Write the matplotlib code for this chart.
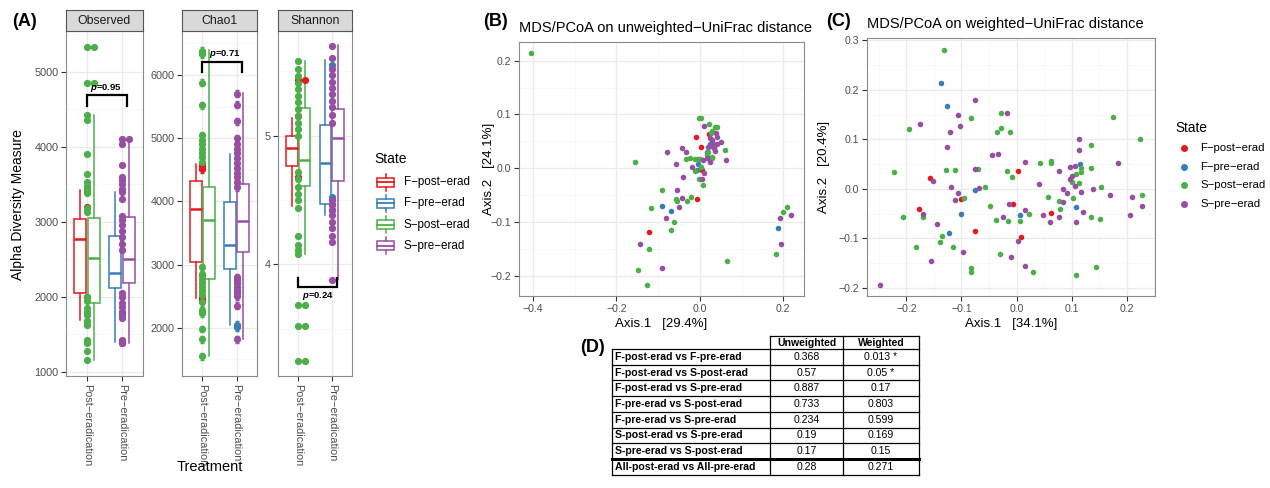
import matplotlib
matplotlib.use("Agg")
import matplotlib.pyplot as plt
from matplotlib.patches import Rectangle

plt.rcParams['font.family'] = ['Liberation Sans', 'DejaVu Sans']
plt.rcParams['mathtext.fontset'] = 'custom'
plt.rcParams['mathtext.it'] = 'Liberation Sans:italic:bold'

# ---- data ---------------------------------------------------------------
states = ["F−post−erad", "F−pre−erad", "S−post−erad", "S−pre−erad"]
state_colors = ["#E41A1C", "#377EB8", "#4DAF4A", "#984EA3"]
treatments = ["Post−eradication", "Pre−eradication"]
state_treatment = [0, 1, 0, 1]          # index into treatments
metrics = ["Observed", "Chao1", "Shannon"]

# five-number summaries per state: whisker low, Q1, median, Q3, whisker high
observed_stats = [
    [1690, 2045, 2765, 3040, 3420],
    [1390, 2120, 2320, 2810, 3390],
    [1150, 1920, 2520, 3055, 4420],
    [1380, 2180, 2500, 3065, 4110],
]
chao1_stats = [
    [2470, 3040, 3885, 4315, 4595],
    [2050, 2935, 3305, 3985, 4755],
    [1550, 2765, 3705, 4230, 6395],
    [1825, 3195, 3695, 4270, 5710],
]
shannon_stats = [
    [4.45, 4.765, 4.905, 5.0, 5.14],
    [4.38, 4.465, 4.79, 5.085, 5.59],
    [4.08, 4.605, 4.81, 5.215, 5.58],
    [3.88, 4.65, 4.985, 5.205, 5.705],
]

observed_pts = [
    [3420, 3190, 1990, 1680],
    [1790, 1760, 1410, 1380],
    [5330, 4850, 4420, 4350, 3900, 3630, 3530, 3480, 3430, 3380, 3180, 3130,
     2000, 1940, 1850, 1800, 1760, 1680, 1620, 1420, 1380, 1280, 1150],
    [4100, 4030, 3750, 3600, 3560, 3500, 3440, 3390, 3300, 3080, 3020, 2950,
     2880, 2800, 2700, 2620, 2050, 1990, 1920, 1860, 1800, 1720, 1420, 1380],
]
observed_dup = [[], [], [5330, 4850], [4100]]

chao1_pts = [
    [4600, 4560, 4510, 2830, 2480, 2440],
    [2600, 2560, 2050, 2010],
    [6380, 6330, 5880, 5520, 5050, 4970, 4900, 4830, 4760, 4700, 4630, 2960,
     2850, 2770, 2700, 2650, 2580, 2520, 2400, 2280, 2230, 1980, 1820, 1550],
    [5700, 5530, 5270, 5000, 4900, 4830, 4760, 4680, 4600, 4530, 4450, 4380,
     4300, 4220, 2800, 2750, 2700, 2640, 2560, 2500, 2350, 1820],
]
chao1_dup = [[], [], [], []]
chao1_se = 55

shannon_pts = [
    [5.43, 5.15, 4.68],
    [5.55, 4.52, 4.47, 4.42],
    [5.58, 5.52, 5.46, 5.41, 5.36, 5.31, 5.26, 5.21, 5.15, 5.10, 5.05, 5.00,
     4.72, 4.66, 4.60, 4.55, 4.50, 4.44, 4.22, 4.15, 4.11, 4.08, 3.68, 3.52, 3.25],
    [5.70, 5.60, 5.52, 5.47, 5.42, 5.37, 5.32, 5.27, 5.22, 5.16, 5.10, 4.50,
     4.46, 4.42, 4.38, 4.33, 4.28, 4.22, 4.17, 3.88],
]
shannon_dup = [[5.43], [], [3.68, 3.52, 3.25], []]

p_labels = ["0.95", "0.71", "0.24"]

# PCoA ordinations (unweighted UniFrac)
unw_fpost_x = [-0.010, 0.002, 0.022, 0.006, -0.008, -0.122]
unw_fpost_y = [0.059, 0.040, 0.063, -0.003, -0.056, -0.117]
unw_fpre_x = [-0.004, -0.008, 0.024, 0.032, 0.016, -0.091, -0.070, 0.188]
unw_fpre_y = [0.008, -0.002, 0.046, 0.040, 0.031, -0.070, -0.079, -0.111]
unw_spost_x = [-0.404, -0.156, -0.003, 0.003, 0.021, 0.030, 0.036, 0.040, 0.027,
               0.060, -0.034, -0.024, -0.011, 0.000, -0.004, 0.002, -0.012,
               0.020, 0.028, 0.016, 0.032, 0.030, -0.003, 0.008, -0.090, -0.058,
               -0.054, -0.032, -0.022, -0.118, -0.063, -0.069, -0.122, -0.148,
               -0.126, 0.064, 0.183, 0.199, 0.210]
unw_spost_y = [0.214, 0.012, 0.093, 0.093, 0.083, 0.070, 0.077, 0.076, 0.065,
               0.034, 0.018, 0.020, 0.018, 0.017, 0.018, 0.003, -0.004,
               0.031, 0.022, 0.025, 0.046, 0.020, -0.020, -0.031, -0.040, -0.056,
               -0.060, -0.061, -0.053, -0.074, -0.099, -0.114, -0.149, -0.189,
               -0.217, -0.171, -0.159, -0.081, -0.072]
unw_spre_x = [0.010, 0.024, 0.032, 0.038, 0.040, 0.050, 0.042, 0.033, 0.036,
              -0.042, -0.034, -0.080, -0.058, -0.040, -0.020, 0.016, 0.062,
              0.008, 0.010, 0.004, 0.025, -0.054, -0.042, -0.051, -0.081,
              -0.143, -0.090, 0.195, 0.191, 0.219, 0.020, 0.028]
unw_spre_y = [0.078, 0.057, 0.046, 0.066, 0.046, 0.049, 0.058, 0.037, 0.033,
              0.038, 0.031, 0.031, 0.009, -0.015, 0.003, 0.020, 0.015,
              0.015, -0.008, -0.020, 0.012, -0.040, -0.054, -0.072, -0.091,
              -0.140, -0.185, -0.141, -0.091, -0.086, 0.040, 0.052]

# PCoA ordinations (weighted UniFrac)
w_fpost_x = [-0.158, -0.100, 0.002, -0.007, -0.178, -0.076, 0.008, 0.063]
w_fpost_y = [0.021, -0.021, 0.036, -0.030, -0.040, -0.086, -0.098, -0.048]
w_fpre_x = [-0.137, -0.127, -0.076, -0.100, -0.123, 0.007, 0.116, 0.108]
w_fpre_y = [0.214, 0.167, -0.002, -0.051, -0.090, -0.053, 0.050, -0.037]
w_spost_x = [-0.132, -0.195, -0.083, -0.028, -0.028, -0.036, -0.012, -0.222,
             -0.129, -0.111, -0.070, -0.018, -0.008, -0.095, -0.057, -0.048,
             -0.170, -0.206, -0.136, -0.139, -0.182, -0.115, -0.082, -0.082,
             -0.030, -0.037, -0.016, 0.006, 0.023, 0.030, 0.042, 0.062, 0.062,
             0.058, 0.118, 0.117, 0.135, 0.135, 0.175, 0.225, 0.100, 0.108,
             0.114, 0.078, 0.102, 0.079, 0.153, 0.228, 0.135, 0.152, 0.144,
             0.108]
w_spost_y = [0.281, 0.121, 0.143, 0.153, 0.123, 0.114, 0.115, 0.034,
             0.038, 0.038, 0.040, 0.037, 0.024, -0.019, 0.003, -0.034,
             -0.056, -0.057, -0.096, -0.107, -0.117, -0.117, -0.160, -0.168,
             -0.131, -0.063, -0.064, -0.065, -0.051, -0.168, 0.053, 0.057, 0.053,
             -0.016, 0.043, 0.034, 0.043, 0.088, 0.145, 0.100, 0.014, 0.030,
             0.011, -0.025, -0.018, -0.040, 0.004, -0.013, -0.056, -0.061, -0.157,
             -0.173]
w_spre_x = [-0.076, -0.175, -0.107, -0.102, -0.121, -0.018, -0.127, -0.045,
            -0.034, -0.152, -0.075, -0.119, -0.107, -0.112, -0.069, -0.013,
            -0.170, -0.144, -0.156, -0.097, -0.248, -0.010, 0.003, -0.025,
            0.016, 0.016, 0.016, 0.040, 0.048, 0.061, 0.078, 0.097, 0.107,
            0.113, 0.113, 0.184, 0.097, 0.100, 0.107, 0.117, 0.085, 0.091,
            0.084, 0.120, 0.138, 0.170, 0.210, 0.227, 0.206, 0.078, 0.108]
w_spre_y = [0.180, 0.131, 0.150, 0.127, 0.115, 0.153, 0.085, 0.069,
            0.071, 0.015, 0.041, 0.003, -0.009, -0.022, 0.001, -0.031,
            -0.051, -0.071, -0.145, -0.128, -0.194, -0.137, -0.106, -0.057,
            -0.042, -0.155, 0.054, 0.009, -0.053, -0.066, 0.036, 0.045, 0.047,
            0.101, 0.079, 0.053, 0.020, 0.025, 0.005, -0.007, -0.001, -0.009,
            -0.026, -0.046, -0.001, -0.012, -0.016, -0.035, -0.052, -0.057,
            -0.067]

# PERMANOVA p-values
comparisons = ["F-post-erad vs F-pre-erad", "F-post-erad vs S-post-erad",
               "F-post-erad vs S-pre-erad", "F-pre-erad vs S-post-erad",
               "F-pre-erad vs S-pre-erad", "S-post-erad vs S-pre-erad",
               "S-pre-erad vs S-post-erad", "All-post-erad vs All-pre-erad"]
p_unweighted = ["0.368", "0.57", "0.887", "0.733", "0.234", "0.19", "0.17", "0.28"]
p_weighted = ["0.013 *", "0.05 *", "0.17", "0.803", "0.599", "0.169", "0.15", "0.271"]

# ---- layout helpers ---------------------------------------------------------
W, H = 1270, 488
fig = plt.figure(figsize=(W / 100, H / 100), dpi=100)
fig.patch.set_facecolor("white")


def axes_px(l, t, r, b, **kw):
    return fig.add_axes([l / W, 1 - b / H, (r - l) / W, (b - t) / H], **kw)


def bw_style(ax, size=7.8):
    for s in ax.spines.values():
        s.set_color("#8a8a8a")
        s.set_linewidth(0.8)
    ax.tick_params(length=3.5, width=0.8, color="#333333", labelsize=size,
                   labelcolor="#4d4d4d", pad=2)
    ax.tick_params(which="minor", length=0)
    ax.set_axisbelow(True)
    ax.grid(which="major", color="#EBEBEB", lw=0.9)
    ax.grid(which="minor", color="#F5F5F5", lw=0.5)


ov = fig.add_axes([0, 0, 1, 1], zorder=10)
ov.set_xlim(0, W)
ov.set_ylim(H, 0)
ov.axis("off")

# ---- (A) alpha diversity ----------------------------------------------------
facet_px = [(66, 143), (182, 257), (278, 352)]
ylims = [(943, 5543), (1236, 6696), (3.132, 5.813)]
yticks = [[1000, 2000, 3000, 4000, 5000], [2000, 3000, 4000, 5000, 6000], [4, 5]]
yminor = [[1500, 2500, 3500, 4500, 5500], [1500, 2500, 3500, 4500, 5500, 6500],
          [3.5, 4.5, 5.5]]
all_stats = [observed_stats, chao1_stats, shannon_stats]
all_pts = [observed_pts, chao1_pts, shannon_pts]
all_dup = [observed_dup, chao1_dup, shannon_dup]
dodge = [-0.19, -0.19, 0.19, 0.19]
# bracket: x from, x to, bar level, leg end, label x, label y
brackets = [(1.0, 2.15, 4690, 4545, 1.55, 4785),
            (1.0, 2.15, 6210, 6055, 1.65, 6325),
            (1.0, 2.15, 3.82, 3.89, 1.6, 3.75)]
dot_ms = 4.2

for m, (l, r) in enumerate(facet_px):
    ax = axes_px(l, 31, r, 376)
    bw_style(ax)
    ax.set_xlim(0.4, 2.6)
    ax.set_ylim(*ylims[m])
    ax.set_yticks(yticks[m])
    ax.set_yticks(yminor[m], minor=True)
    ax.set_xticks([1, 2])
    ax.set_xticklabels(treatments, rotation=-90, fontsize=7.8, color="#4d4d4d")
    for i, st in enumerate(all_stats[m]):
        c = state_colors[i]
        x0 = state_treatment[i] + 1
        lo, q1, med, q3, hi = st
        ax.bxp([{"whislo": lo, "q1": q1, "med": med, "q3": q3, "whishi": hi,
                 "fliers": []}], positions=[x0 + dodge[i]], widths=0.34,
               showcaps=False, patch_artist=True, manage_ticks=False,
               boxprops=dict(facecolor="white", edgecolor=c, lw=1.1),
               medianprops=dict(color=c, lw=1.8),
               whiskerprops=dict(color=c, lw=1.1), zorder=2)
    for i in range(4):
        c = state_colors[i]
        x0 = state_treatment[i] + 1
        pts = all_pts[m][i]
        if m == 1:
            ax.errorbar([x0] * len(pts), pts, yerr=chao1_se, fmt="o", ms=dot_ms,
                        color=c, ecolor=c, elinewidth=0.8, capsize=1.5, zorder=3)
        else:
            ax.plot([x0] * len(pts), pts, "o", ms=dot_ms, color=c, zorder=3)
        dup = all_dup[m][i]
        ax.plot([x0 + 0.2] * len(dup), dup, "o", ms=dot_ms, color=c, zorder=3)
    xa, xb, lvl, leg, lx, ly = brackets[m]
    ax.plot([xa, xa, xb, xb], [leg, lvl, lvl, leg], color="black", lw=1.6,
            zorder=4, solid_joinstyle="miter")
    ax.text(lx, ly, r"$p$=" + p_labels[m], fontsize=6.8, fontweight="bold",
            ha="center", va="center", zorder=5)

    strip = axes_px(l, 10, r, 31)
    strip.set_facecolor("#D9D9D9")
    strip.set_xticks([])
    strip.set_yticks([])
    for s in strip.spines.values():
        s.set_color("#555555")
        s.set_linewidth(0.8)
    strip.text(0.5, 0.5, metrics[m], ha="center", va="center", fontsize=8.8,
               color="#1a1a1a", transform=strip.transAxes)

ov.text(18, 205, "Alpha Diversity Measure", rotation=90, ha="center",
        va="center", fontsize=10)
ov.text(210, 467, "Treatment", ha="center", va="center", fontsize=10.5)

# legend with boxplot keys
ov.text(374, 159, "State", ha="left", va="center", fontsize=10)
for i, name in enumerate(states):
    yc = 182 + 21.3 * i
    c = state_colors[i]
    ov.add_patch(Rectangle((377, yc - 4.5), 17, 9, fc="white", ec=c, lw=1.1))
    ov.plot([377, 394], [yc, yc], color=c, lw=1.3)
    ov.plot([385.5, 385.5], [yc - 8.5, yc - 4.5], color=c, lw=1.1)
    ov.plot([385.5, 385.5], [yc + 4.5, yc + 8.5], color=c, lw=1.1)
    ov.text(404, yc, name, ha="left", va="center", fontsize=8.4)

# ---- (B) / (C) ordinations --------------------------------------------------
pcoa_specs = [
    dict(box=(519, 42, 804, 296), xlim=(-0.4337, 0.2496), ylim=(-0.2365, 0.2344),
         xt=[-0.4, -0.2, 0.0, 0.2], xm=[-0.3, -0.1, 0.1],
         yt=[-0.2, -0.1, 0.0, 0.1, 0.2], ym=[-0.15, -0.05, 0.05, 0.15],
         xs=[unw_fpost_x, unw_fpre_x, unw_spost_x, unw_spre_x],
         ys=[unw_fpost_y, unw_fpre_y, unw_spost_y, unw_spre_y],
         title="MDS/PCoA on unweighted−UniFrac distance",
         xlab="Axis.1   [29.4%]", ylab="Axis.2   [24.1%]", ylab_x=489),
    dict(box=(867, 38, 1155, 296), xlim=(-0.2716, 0.2515), ylim=(-0.2162, 0.3044),
         xt=[-0.2, -0.1, 0.0, 0.1, 0.2], xm=[-0.25, -0.15, -0.05, 0.05, 0.15, 0.25],
         yt=[-0.2, -0.1, 0.0, 0.1, 0.2, 0.3],
         ym=[-0.15, -0.05, 0.05, 0.15, 0.25],
         xs=[w_fpost_x, w_fpre_x, w_spost_x, w_spre_x],
         ys=[w_fpost_y, w_fpre_y, w_spost_y, w_spre_y],
         title="MDS/PCoA on weighted−UniFrac distance",
         xlab="Axis.1   [34.1%]", ylab="Axis.2   [20.4%]", ylab_x=824),
]
for sp in pcoa_specs:
    l, t, r, b = sp["box"]
    ax = axes_px(l, t, r, b)
    bw_style(ax, size=7.6)
    ax.set_xlim(*sp["xlim"])
    ax.set_ylim(*sp["ylim"])
    ax.set_xticks(sp["xt"])
    ax.set_xticks(sp["xm"], minor=True)
    ax.set_yticks(sp["yt"])
    ax.set_yticks(sp["ym"], minor=True)
    for i in range(4):
        ax.scatter(sp["xs"][i], sp["ys"][i], s=16, color=state_colors[i],
                   linewidths=0, zorder=3)
    ov.text(l, t - 14, sp["title"], ha="left", va="center", fontsize=10.5)
    ov.text((l + r) / 2, 324, sp["xlab"], ha="center", va="center", fontsize=9.5)
    ov.text(sp["ylab_x"], (t + b) / 2, sp["ylab"], rotation=90, ha="center",
            va="center", fontsize=9.5)

ov.text(1175, 128, "State", ha="left", va="center", fontsize=9.8)
for i, name in enumerate(states):
    yc = 148.3 + 18.5 * i
    ov.plot([1184], [yc], "o", ms=4, color=state_colors[i])
    ov.text(1200, yc, name, ha="left", va="center", fontsize=8.2)

# ---- (D) PERMANOVA table ----------------------------------------------------
col_x = [612, 770, 843, 919]
head_top, row_top, row_h = 336, 349, 15.7
n = len(comparisons)
bottom = row_top + n * row_h
ov.plot([col_x[1], col_x[3]], [head_top, head_top], color="black", lw=0.9)
for y in [row_top + k * row_h for k in range(n + 1)]:
    ov.plot([col_x[0], col_x[3]], [y, y], color="black", lw=0.9)
ov.plot([col_x[0], col_x[3]], [row_top + (n - 1) * row_h] * 2, color="black", lw=2.2)
ov.plot([col_x[0], col_x[0]], [row_top, bottom], color="black", lw=0.9)
for cx in col_x[1:]:
    ov.plot([cx, cx], [head_top, bottom], color="black", lw=0.9)
tfs = 7.6
ov.text((col_x[1] + col_x[2]) / 2, (head_top + row_top) / 2, "Unweighted",
        ha="center", va="center", fontsize=tfs, fontweight="bold")
ov.text((col_x[2] + col_x[3]) / 2, (head_top + row_top) / 2, "Weighted",
        ha="center", va="center", fontsize=tfs, fontweight="bold")
for k in range(n):
    yc = row_top + (k + 0.5) * row_h
    ov.text(col_x[0] + 3, yc, comparisons[k], ha="left", va="center",
            fontsize=tfs, fontweight="bold")
    ov.text((col_x[1] + col_x[2]) / 2, yc, p_unweighted[k], ha="center",
            va="center", fontsize=tfs)
    ov.text((col_x[2] + col_x[3]) / 2, yc, p_weighted[k], ha="center",
            va="center", fontsize=tfs)

# panel letters
for lab, x, y in [("(A)", 12, 21), ("(B)", 483, 21), ("(C)", 826, 22), ("(D)", 580, 347)]:
    ov.text(x, y, lab, ha="left", va="center", fontsize=13, fontweight="bold")

fig.savefig("out.png", dpi=100)
